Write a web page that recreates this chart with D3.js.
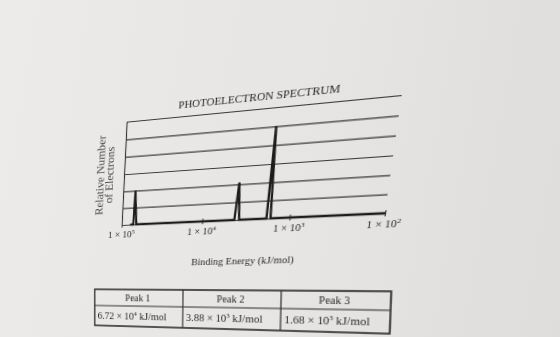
<!DOCTYPE html>
<html>
<head>
<meta charset="utf-8">
<script src="https://cdn.jsdelivr.net/npm/d3@7"></script>
<style>
  html, body { margin: 0; padding: 0; }
  body {
    width: 560px; height: 337px; overflow: hidden; position: relative;
    background: linear-gradient(100deg, #ecebe9 0%, #e6e5e3 55%, #dedddb 100%);
  }
  .warp { position: absolute; left: 0; top: 0; transform-origin: 0 0; }
  text { font-family: "Liberation Serif", "Times New Roman", serif; fill: #2a2a2a; }
</style>
</head>
<body>
<div id="chart" class="warp"></div>
<div id="table" class="warp"></div>
<script>
// axis ticks (binding energy, kJ/mol) and grid levels
const tickValues = [1e5, 1e4, 1e3, 1e2];
const tickExponents = ["5", "4", "3", "2"];
const gridLevels = [0, 1, 2, 3, 4, 5, 6];

// spectrum trace: energy (kJ/mol) and relative count
const traceEnergy = [7.8e4, 7.1e4, 7.0e4, 6.5e4, 4.2e3, 4.0e3, 3.7e3, 1.81e3, 1.78e3, 1.63e3, 1e2];
const traceCount = [0, 0, 2, 0, 0, 2.1, 0, 0, 5, 0, 0];

// table under the chart
const peakNames = ["Peak 1", "Peak 2", "Peak 3"];
const peakMantissa = ["6.72", "3.88", "1.68"];
const peakExponent = ["4", "3", "3"];

// solve the 8x8 system for a projective map src -> dst (4 points each)
function homography(src, dst) {
    const A = [], b = [];
    for (let i = 0; i < 4; i++) {
        const [sx, sy] = src[i], [u, v] = dst[i];
        A.push([sx, sy, 1, 0, 0, 0, -u * sx, -u * sy]); b.push(u);
        A.push([0, 0, 0, sx, sy, 1, -v * sx, -v * sy]); b.push(v);
    }
    const n = 8;
    for (let i = 0; i < n; i++) {
        let p = i;
        for (let r = i + 1; r < n; r++) if (Math.abs(A[r][i]) > Math.abs(A[p][i])) p = r;
        [A[i], A[p]] = [A[p], A[i]];
        [b[i], b[p]] = [b[p], b[i]];
        for (let r = i + 1; r < n; r++) {
            const f = A[r][i] / A[i][i];
            for (let c = i; c < n; c++) A[r][c] -= f * A[i][c];
            b[r] -= f * b[i];
        }
    }
    const h = new Array(n);
    for (let i = n - 1; i >= 0; i--) {
        let s = b[i];
        for (let c = i + 1; c < n; c++) s -= A[i][c] * h[c];
        h[i] = s / A[i][i];
    }
    return h;
}

// the page in the photo is tilted, so warp each block onto its corners
function warp(selector, src, dst) {
    const h = homography(src, dst);
    d3.select(selector).style("transform",
        `matrix3d(${h[0]},${h[3]},0,${h[6]},${h[1]},${h[4]},0,${h[7]},0,0,1,0,${h[2]},${h[5]},0,1)`);
}

function drawChart() {
    const W = 263, H = 110, m = { left: 80, top: 40 };
    const svg = d3.select("#chart").append("svg").attr("width", 420).attr("height", 210);
    const g = svg.append("g").attr("transform", `translate(${m.left},${m.top})`);

    const x = d3.scaleLog().domain([1e5, 1e2]).range([0, W]);
    const y = d3.scaleLinear().domain([0, 6]).range([H, 0]);

    // horizontal rules + left axis
    const grid = g.append("g")
        .call(d3.axisLeft(y).tickValues(gridLevels).tickSize(-W).tickSizeOuter(0).tickFormat(""));
    grid.selectAll("line").attr("stroke", "#3a3a3a").attr("stroke-width", 1.1);
    grid.select(".domain").attr("stroke", "#333").attr("stroke-width", 1.2);

    // bottom axis
    const xAxis = g.append("g").attr("transform", `translate(0,${H})`)
        .call(d3.axisBottom(x).tickValues(tickValues).tickSizeInner(3).tickSizeOuter(0).tickFormat(""));
    xAxis.select(".domain").attr("stroke", "#333").attr("stroke-width", 1.2);
    xAxis.selectAll(".tick line").attr("y1", -3).attr("stroke", "#333");

    const labels = g.selectAll(".xlab")
        .data(tickValues)
        .join("text")
        .attr("class", "xlab")
        .attr("x", d => x(d))
        .attr("y", H + 14)
        .attr("text-anchor", "middle")
        .attr("font-size", 10.5);
    labels.append("tspan").text("1 \u00d7 10");
    labels.append("tspan").attr("dy", -4).attr("font-size", 7).text((d, i) => tickExponents[i]);

    // spectrum
    const line = d3.line()
        .x((d, i) => x(traceEnergy[i]))
        .y((d, i) => y(traceCount[i]));
    g.append("path")
        .datum(traceEnergy)
        .attr("d", line)
        .attr("fill", "none")
        .attr("stroke", "#1c1c1c")
        .attr("stroke-width", 2.3);

    g.append("text")
        .attr("x", W / 2)
        .attr("y", -8)
        .attr("text-anchor", "middle")
        .attr("font-size", 11)
        .text("PHOTOELECTRON SPECTRUM");

    g.append("text")
        .attr("x", W / 2)
        .attr("y", H + 47)
        .attr("text-anchor", "middle")
        .attr("font-size", 10.5)
        .text("Binding Energy (kJ/mol)");

    const yl = g.append("text")
        .attr("transform", `translate(-27,${H * 0.5}) rotate(-90)`)
        .attr("text-anchor", "middle")
        .attr("font-size", 12.5)
        .style("fill", "#444");
    yl.append("tspan").attr("x", 0).attr("dy", 0).attr("dominant-baseline", "central").text("Relative Number");
    yl.append("tspan").attr("x", 0).attr("dy", 10.5).attr("dominant-baseline", "central").text("of Electrons");

    warp("#chart",
        [[m.left, m.top], [m.left + W, m.top], [m.left, m.top + H], [m.left + W, m.top + H]],
        [[126.7, 121.7], [401.7, 95], [121.7, 225], [385, 213.3]]);
}

function drawTable() {
    const TW = 297, TH = 38, split = 17, o = 10;
    const svg = d3.select("#table").append("svg").attr("width", 330).attr("height", 60);
    const g = svg.append("g").attr("transform", `translate(${o},${o})`);
    const col = d3.scaleLinear().domain([0, 3]).range([0, TW]);

    g.append("rect").attr("width", TW).attr("height", TH)
        .attr("fill", "none").attr("stroke", "#2e2e2e").attr("stroke-width", 1.6);
    g.append("line").attr("x1", 0).attr("x2", TW).attr("y1", split).attr("y2", split)
        .attr("stroke", "#2e2e2e").attr("stroke-width", 1.2);
    g.selectAll(".vline").data([1, 2]).join("line")
        .attr("class", "vline")
        .attr("x1", d => col(d)).attr("x2", d => col(d))
        .attr("y1", 0).attr("y2", TH)
        .attr("stroke", "#2e2e2e").attr("stroke-width", 1.2);

    g.selectAll(".head").data(peakNames).join("text")
        .attr("class", "head")
        .attr("x", (d, i) => col(i + 0.5))
        .attr("y", split / 2)
        .attr("dominant-baseline", "central")
        .attr("text-anchor", "middle")
        .attr("font-size", 10.5)
        .text(d => d);

    const vals = g.selectAll(".val").data(peakMantissa).join("text")
        .attr("class", "val")
        .attr("x", (d, i) => col(i) + 3.5)
        .attr("y", split + (TH - split) / 2 + 3.8)
        .attr("font-size", 11);
    vals.append("tspan").text(d => d + " \u00d7 10");
    vals.append("tspan").attr("dy", -4.5).attr("font-size", 7).text((d, i) => peakExponent[i]);
    vals.append("tspan").attr("dy", 4.5).text(" kJ/mol");

    warp("#table",
        [[o, o], [o + TW, o], [o, o + TH], [o + TW, o + TH]],
        [[94.7, 289.3], [391.3, 291.3], [94.7, 325.3], [389.7, 333.7]]);
}

drawChart();
drawTable();
</script>
</body>
</html>
